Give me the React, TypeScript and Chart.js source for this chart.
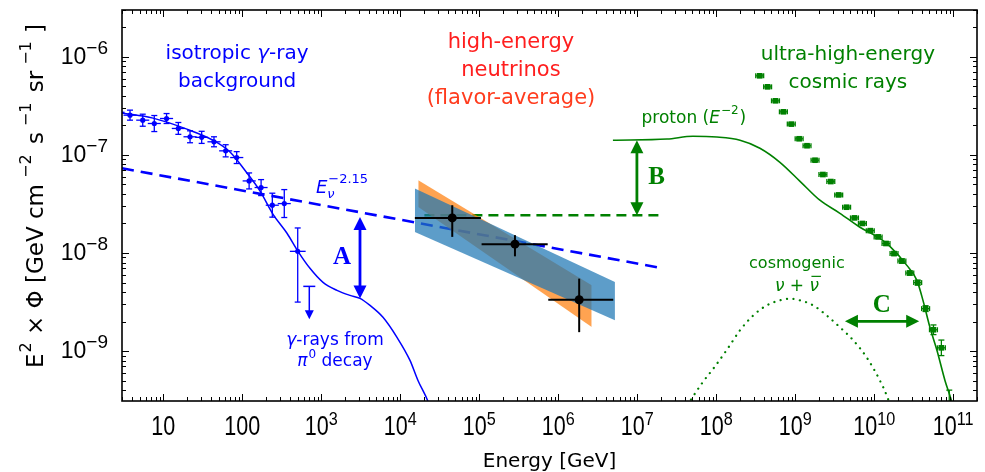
import React, { useEffect, useRef } from "react";
import { Chart, registerables } from "chart.js";

Chart.register(...registerables);

// ---------------- axes ----------------
const X_MIN = 3;
const X_MAX = 2e11;
const Y_MIN = 3.1e-10;
const Y_MAX = 3e-6;
const xTickDecades = [1, 2, 3, 4, 5, 6, 7, 8, 9, 10, 11];
const yTickDecades = [-6, -7, -8, -9];

// ---------------- isotropic gamma-ray background (Fermi) ----------------
const igrbE = [2.67, 3.79, 5.49, 7.69, 11.0, 15.5, 21.8, 30.6, 43.8, 61.6, 84.9, 122, 173, 240, 340, 503];
const igrbELo = [2.21, 3.13, 4.54, 6.36, 9.09, 12.8, 18.0, 25.3, 36.2, 50.9, 70.2, 101, 143, 198, 281, 400];
const igrbEHi = [3.23, 4.59, 6.64, 9.3, 13.3, 18.8, 26.4, 37.0, 53.0, 74.5, 103, 148, 209, 290, 411, 634];
const igrbF = [2.72e-7, 2.54e-7, 2.26e-7, 2.09e-7, 2.35e-7, 1.86e-7, 1.53e-7, 1.51e-7, 1.36e-7, 1.1e-7, 9.4e-8, 5.43e-8, 4.65e-8, 3.07e-8, 3.19e-8, 1.04e-8];
const igrbFLo = [2.42e-7, 2.26e-7, 1.96e-7, 1.73e-7, 2.09e-7, 1.62e-7, 1.33e-7, 1.31e-7, 1.21e-7, 9.55e-8, 8.17e-8, 4.5e-8, 3.85e-8, 2.32e-8, 2.3e-8, 3.16e-9];
const igrbFHi = [3.06e-7, 2.86e-7, 2.6e-7, 2.52e-7, 2.64e-7, 2.14e-7, 1.76e-7, 1.74e-7, 1.53e-7, 1.27e-7, 1.08e-7, 6.55e-8, 5.6e-8, 4.07e-8, 4.43e-8, 1.8e-8];
const igrbUpperLimitE = 705;
const igrbUpperLimitF = 4.57e-9;

// pi0-decay gamma-ray model
const igrbModelE = [3.0, 7.41, 19.9, 42.6, 69.9, 115, 168, 245, 368, 507, 719, 1052, 1581, 2309, 3090, 4139, 6043, 9085, 13270, 16750, 22420, 28300];
const igrbModelF = [2.67e-7, 2.37e-7, 1.83e-7, 1.41e-7, 1.07e-7, 6.51e-8, 4.27e-8, 2.48e-8, 1.59e-8, 1.04e-8, 6.98e-9, 5.02e-9, 4.16e-9, 3.7e-9, 3.45e-9, 2.92e-9, 2.21e-9, 1.38e-9, 8.04e-10, 5.02e-10, 3.07e-10, 1.75e-10];

// E^-2.15 power law
const powerLawE = [3.0, 2.12e7];
const powerLawF = [7.31e-8, 6.98e-9];

// ---------------- high-energy neutrinos ----------------
const nuE = [4.55e4, 2.83e5, 1.84e6];
const nuELo = [1.53e4, 1.07e5, 7.47e5];
const nuEHi = [1.05e5, 7.35e5, 4.97e6];
const nuF = [2.28e-8, 1.23e-8, 3.34e-9];
const nuFLo = [1.46e-8, 9.25e-9, 1.56e-9];
const nuFHi = [3.07e-8, 1.52e-8, 5.48e-9];

const bandOrangeE = [1.69e4, 2.65e6];
const bandOrangeUpper = [5.52e-8, 4.68e-9];
const bandOrangeLower = [2.94e-8, 1.76e-9];
const bandBlueE = [1.53e4, 5.22e6];
const bandBlueUpper = [4.54e-8, 5.06e-9];
const bandBlueLower = [1.64e-8, 2.06e-9];

const nuLevelE = [2.02e4, 1.94e7];
const nuLevelF = [2.43e-8, 2.43e-8];

// ---------------- UHE cosmic rays ----------------
const uhecrE = [3.55e8, 4.47e8, 5.62e8, 7.08e8, 8.91e8, 1.12e9, 1.41e9, 1.78e9, 2.24e9, 2.82e9, 3.55e9, 4.47e9, 5.62e9, 7.08e9, 8.91e9, 1.12e10, 1.41e10, 1.78e10, 2.24e10, 2.82e10, 3.55e10, 4.47e10, 5.62e10, 7.08e10, 8.91e10];
const uhecrF = [6.4e-7, 4.94e-7, 3.56e-7, 2.75e-7, 2.06e-7, 1.46e-7, 1.24e-7, 8.83e-8, 6.31e-8, 5.35e-8, 3.91e-8, 2.93e-8, 2.28e-8, 2.0e-8, 1.69e-8, 1.46e-8, 1.25e-8, 9.86e-9, 8.28e-9, 6.25e-9, 4.99e-9, 2.71e-9, 1.65e-9, 1.08e-9, 2.9e-10];
const uhecrRelErr = [0.03, 0.03, 0.03, 0.03, 0.03, 0.03, 0.03, 0.03, 0.03, 0.03, 0.03, 0.03, 0.03, 0.03, 0.03, 0.04, 0.04, 0.04, 0.05, 0.05, 0.06, 0.07, 0.12, 0.2, 0.38];
const uhecrBinHalfDex = 0.05;

const protonE = [4.92e6, 2.38e7, 5.07e7, 1.02e8, 2.0e8, 3.57e8, 6.4e8, 1.15e9, 2.05e9, 3.68e9, 6.59e9, 1.18e10, 1.58e10, 2.59e10, 3.47e10, 4.14e10, 5.07e10, 6.22e10, 7.86e10, 9.63e10, 1.08e11];
const protonF = [1.41e-7, 1.45e-7, 1.55e-7, 1.52e-7, 1.41e-7, 1.17e-7, 8.41e-8, 5.38e-8, 3.45e-8, 2.54e-8, 1.83e-8, 1.41e-8, 1.17e-8, 7.48e-9, 5.26e-9, 3.29e-9, 1.75e-9, 1.02e-9, 5.02e-10, 3.0e-10, 1.96e-10];

const cosmoE = [3.9e7, 6.53e7, 9.16e7, 1.35e8, 2.0e8, 2.94e8, 4.34e8, 6.4e8, 8.57e8, 1.15e9, 1.69e9, 2.5e9, 3.68e9, 5.42e9, 8.02e9, 1.18e10, 1.44e10, 1.68e10];
const cosmoF = [2.48e-10, 4.65e-10, 6.61e-10, 1.02e-9, 1.63e-9, 2.31e-9, 2.92e-9, 3.29e-9, 3.42e-9, 3.29e-9, 2.92e-9, 2.31e-9, 1.75e-9, 1.29e-9, 8.63e-10, 5.02e-10, 3.53e-10, 2.48e-10];

// ---------------- styles ----------------
const BLUE = "#0000ff";
const GREEN = "#008000";
const RED = "rgb(255,30,30)";
const RED2 = "rgb(255,60,30)";
const SANS = '"DejaVu Sans", "Liberation Sans", sans-serif';
const LIB = '"Liberation Sans", Arial, sans-serif';
const SERIF = '"Liberation Serif", "DejaVu Serif", serif';

type Part = { t: string; font: string; dy?: number; dx?: number; sx?: number };

function pts(xs: number[], ys: number[]) {
  return xs.map((x, i) => ({ x, y: ys[i] }));
}

function partsWidth(ctx: CanvasRenderingContext2D, parts: Part[]) {
  let w = 0;
  for (const p of parts) {
    ctx.font = p.font;
    w += ctx.measureText(p.t).width * (p.sx ?? 1) + (p.dx ?? 0);
  }
  return w;
}

function drawParts(
  ctx: CanvasRenderingContext2D,
  parts: Part[],
  x: number,
  y: number,
  align: "left" | "center" | "right",
  color: string
) {
  const w = partsWidth(ctx, parts);
  let cx = align === "center" ? x - w / 2 : align === "right" ? x - w : x;
  ctx.fillStyle = color;
  ctx.textAlign = "left";
  const xs: number[] = [];
  for (const p of parts) {
    ctx.font = p.font;
    cx += p.dx ?? 0;
    const sx = p.sx ?? 1;
    xs.push(cx);
    const mw = ctx.measureText(p.t).width * sx;
    ctx.save();
    ctx.translate(cx, y + (p.dy ?? 0));
    ctx.scale(sx, 1);
    ctx.fillText(p.t, 0, 0);
    ctx.restore();
    cx += mw;
  }
  return xs;
}

function seg(ctx: CanvasRenderingContext2D, x1: number, y1: number, x2: number, y2: number) {
  ctx.beginPath();
  ctx.moveTo(x1, y1);
  ctx.lineTo(x2, y2);
  ctx.stroke();
}

function head(ctx: CanvasRenderingContext2D, tx: number, ty: number, ux: number, uy: number, len: number, half: number) {
  const bx = tx - ux * len;
  const by = ty - uy * len;
  ctx.beginPath();
  ctx.moveTo(tx, ty);
  ctx.lineTo(bx - uy * half, by + ux * half);
  ctx.lineTo(bx + uy * half, by - ux * half);
  ctx.closePath();
  ctx.fill();
}

function dblArrow(ctx: CanvasRenderingContext2D, x1: number, y1: number, x2: number, y2: number, color: string) {
  const L = Math.hypot(x2 - x1, y2 - y1);
  const ux = (x2 - x1) / L;
  const uy = (y2 - y1) / L;
  const len = 13;
  const half = 6.5;
  ctx.strokeStyle = color;
  ctx.fillStyle = color;
  ctx.lineWidth = 2.8;
  seg(ctx, x1 + ux * len * 0.7, y1 + uy * len * 0.7, x2 - ux * len * 0.7, y2 - uy * len * 0.7);
  head(ctx, x1, y1, -ux, -uy, len, half);
  head(ctx, x2, y2, ux, uy, len, half);
}

// annotations in data coordinates
const arrowA = { e: 3.09e3, f1: 2.33e-8, f2: 3.43e-9 };
const arrowB = { e: 9.9e6, f1: 1.41e-7, f2: 2.43e-8 };
const arrowC = { f: 2.01e-9, e1: 4.26e9, e2: 3.71e10 };

const overlay = {
  id: "overlay",
  afterDatasetsDraw(chart: any) {
    const { ctx, chartArea: a } = chart;
    const X = (v: number) => chart.scales.x.getPixelForValue(v);
    const Y = (v: number) => chart.scales.y.getPixelForValue(v);
    ctx.save();
    ctx.beginPath();
    ctx.rect(a.left, a.top, a.right - a.left, a.bottom - a.top);
    ctx.clip();
    ctx.lineCap = "butt";

    // IGRB error bars
    ctx.strokeStyle = BLUE;
    ctx.fillStyle = BLUE;
    ctx.lineWidth = 1.3;
    for (let i = 0; i < igrbE.length; i++) {
      const x = X(igrbE[i]);
      const y = Y(igrbF[i]);
      seg(ctx, X(igrbELo[i]), y, X(igrbEHi[i]), y);
      const yl = Y(igrbFLo[i]);
      const yh = Y(igrbFHi[i]);
      seg(ctx, x, yl, x, yh);
      seg(ctx, x - 3, yl, x + 3, yl);
      seg(ctx, x - 3, yh, x + 3, yh);
    }
    // upper limit
    {
      const x = X(igrbUpperLimitE);
      const y = Y(igrbUpperLimitF);
      ctx.lineWidth = 1.5;
      seg(ctx, x - 6, y, x + 6, y);
      seg(ctx, x, y, x, y + 26);
      head(ctx, x, y + 33, 0, 1, 9, 4.5);
    }

    // UHECR error bars
    ctx.strokeStyle = GREEN;
    ctx.lineWidth = 1.3;
    for (let i = 0; i < uhecrE.length; i++) {
      const x = X(uhecrE[i]);
      const y = Y(uhecrF[i]);
      const x0 = X(uhecrE[i] / Math.pow(10, uhecrBinHalfDex));
      const x1 = X(uhecrE[i] * Math.pow(10, uhecrBinHalfDex));
      seg(ctx, x0, y, x1, y);
      seg(ctx, x0, y - 2.5, x0, y + 2.5);
      seg(ctx, x1, y - 2.5, x1, y + 2.5);
      const yl = Y(uhecrF[i] / (1 + uhecrRelErr[i]));
      const yh = Y(uhecrF[i] * (1 + uhecrRelErr[i]));
      seg(ctx, x, yl, x, yh);
      seg(ctx, x - 3, yl, x + 3, yl);
      seg(ctx, x - 3, yh, x + 3, yh);
    }

    // neutrino error bars
    ctx.strokeStyle = "#000";
    ctx.lineWidth = 2;
    for (let i = 0; i < nuE.length; i++) {
      const x = X(nuE[i]);
      const y = Y(nuF[i]);
      seg(ctx, X(nuELo[i]), y, X(nuEHi[i]), y);
      seg(ctx, x, Y(nuFLo[i]), x, Y(nuFHi[i]));
    }

    // arrows
    dblArrow(ctx, X(arrowA.e), Y(arrowA.f1), X(arrowA.e), Y(arrowA.f2), BLUE);
    dblArrow(ctx, X(arrowB.e), Y(arrowB.f1), X(arrowB.e), Y(arrowB.f2), GREEN);
    dblArrow(ctx, X(arrowC.e1), Y(arrowC.f), X(arrowC.e2), Y(arrowC.f), GREEN);
    ctx.restore();
  },
  afterDraw(chart: any) {
    const { ctx, chartArea: a } = chart;
    const xs = chart.scales.x;
    const ys = chart.scales.y;
    const X = (v: number) => xs.getPixelForValue(v);
    const Y = (v: number) => ys.getPixelForValue(v);
    ctx.save();

    // frame
    ctx.strokeStyle = "#000";
    ctx.lineWidth = 1.6;
    ctx.strokeRect(a.left, a.top, a.right - a.left, a.bottom - a.top);

    // ticks
    ctx.lineWidth = 1;
    for (let d = -1; d <= 12; d++) {
      for (let m = 1; m <= 9; m++) {
        const v = m * Math.pow(10, d);
        if (v < X_MIN || v > X_MAX) continue;
        const p = Math.round(X(v)) + 0.5;
        const L = m === 1 ? 7 : 4;
        seg(ctx, p, a.bottom, p, a.bottom - L);
        seg(ctx, p, a.top, p, a.top + L);
      }
    }
    for (let d = -11; d <= -4; d++) {
      for (let m = 1; m <= 9; m++) {
        const v = m * Math.pow(10, d);
        if (v < Y_MIN || v > Y_MAX) continue;
        const p = Math.round(Y(v)) + 0.5;
        const L = m === 1 ? 7 : 4;
        seg(ctx, a.left, p, a.left + L, p);
        seg(ctx, a.right, p, a.right - L, p);
      }
    }

    // tick labels
    ctx.textBaseline = "alphabetic";
    for (const d of xTickDecades) {
      const px = X(Math.pow(10, d));
      const parts: Part[] =
        d === 1
          ? [{ t: "10", font: `28px ${LIB}`, sx: 0.77 }]
          : d === 2
          ? [{ t: "100", font: `28px ${LIB}`, sx: 0.77 }]
          : [
              { t: "10", font: `28px ${LIB}`, sx: 0.77 },
              { t: String(d), font: `18px ${LIB}`, dy: -10, sx: 0.9 },
            ];
      drawParts(ctx, parts, px, a.bottom + 34, "center", "#000");
    }
    for (const d of yTickDecades) {
      const py = Y(Math.pow(10, d));
      drawParts(
        ctx,
        [
          { t: "10", font: `23px ${LIB}` },
          { t: "\u2212" + String(-d), font: `19px ${LIB}`, dy: -10 },
        ],
        108,
        py + 7,
        "right",
        "#000"
      );
    }

    // axis titles
    drawParts(ctx, [{ t: "Energy [GeV]", font: `20px ${SANS}` }], (a.left + a.right) / 2, 467, "center", "#000");
    ctx.save();
    ctx.translate(43, 196);
    ctx.rotate(-Math.PI / 2);
    const T = `23px ${SANS}`;
    const S = `16px ${SANS}`;
    drawParts(
      ctx,
      [
        { t: "E", font: T },
        { t: "2", font: S, dy: -12, dx: 1 },
        { t: " \u00d7 \u03a6 [GeV cm", font: T },
        { t: "\u22122", font: S, dy: -12, dx: 6 },
        { t: " s", font: T, dx: 3 },
        { t: "\u22121", font: S, dy: -12, dx: 6 },
        { t: " sr", font: T, dx: 3 },
        { t: "\u22121", font: S, dy: -12, dx: 6 },
        { t: " ]", font: T, dx: 1 },
      ],
      0,
      0,
      "center",
      "#000"
    );
    ctx.restore();

    // annotations
    ctx.textBaseline = "middle";
    const N20 = `20px ${SANS}`;
    const I20 = `italic 20px ${SANS}`;
    const N21 = `21px ${SANS}`;
    drawParts(ctx, [{ t: "isotropic ", font: N20 }, { t: "\u03b3", font: I20 }, { t: "-ray", font: N20 }], X(86), Y(1.066e-6), "center", BLUE);
    drawParts(ctx, [{ t: "background", font: N20 }], X(86), Y(5.52e-7), "center", BLUE);
    drawParts(ctx, [{ t: "high-energy", font: N21 }], X(2.52e5), Y(1.41e-6), "center", RED);
    drawParts(ctx, [{ t: "neutrinos", font: N21 }], X(2.52e5), Y(7.31e-7), "center", RED);
    drawParts(ctx, [{ t: "(flavor-average)", font: N21 }], X(2.52e5), Y(3.79e-7), "center", RED2);
    drawParts(ctx, [{ t: "ultra-high-energy", font: N20 }], X(4.64e9), Y(1.04e-6), "center", GREEN);
    drawParts(ctx, [{ t: "cosmic rays", font: N20 }], X(4.64e9), Y(5.39e-7), "center", GREEN);

    const N17 = `17px ${SANS}`;
    const I17 = `italic 17px ${SANS}`;
    const S12 = `12px ${SANS}`;
    drawParts(
      ctx,
      [
        { t: "proton (", font: N17 },
        { t: "E", font: I17 },
        { t: "\u22122", font: S12, dy: -7, dx: 1 },
        { t: ")", font: N17, dx: 1 },
      ],
      X(5.21e7),
      Y(2.37e-7),
      "center",
      GREEN
    );
    ctx.font = `italic 13px ${SANS}`;
    const nuW = ctx.measureText("\u03bd").width;
    drawParts(
      ctx,
      [
        { t: "E", font: `italic 18px ${SANS}` },
        { t: "\u03bd", font: `italic 13px ${SANS}`, dy: 6 },
        { t: "\u22122.15", font: `13px ${SANS}`, dy: -9, dx: -nuW + 1 },
      ],
      X(1.83e3),
      Y(4.57e-8),
      "center",
      BLUE
    );
    drawParts(ctx, [{ t: "\u03b3", font: I17 }, { t: "-rays from", font: N17 }], X(1.49e3), Y(1.29e-9), "center", BLUE);
    drawParts(
      ctx,
      [
        { t: "\u03c0", font: I17 },
        { t: "0", font: S12, dy: -7, dx: 1 },
        { t: " decay", font: N17 },
      ],
      X(1.49e3),
      Y(7.85e-10),
      "center",
      BLUE
    );
    drawParts(ctx, [{ t: "cosmogenic", font: `16px ${SANS}` }], X(1.05e9), Y(7.67e-9), "center", GREEN);
    const nx = drawParts(
      ctx,
      [
        { t: "\u03bd", font: I17 },
        { t: " + ", font: N17 },
        { t: "\u03bd", font: I17 },
      ],
      X(1.05e9),
      Y(4.57e-9),
      "center",
      GREEN
    );
    {
      ctx.font = I17;
      const w = ctx.measureText("\u03bd").width;
      const yb = Y(4.57e-9) - 10;
      ctx.strokeStyle = GREEN;
      ctx.lineWidth = 1.2;
      seg(ctx, nx[2] + 2, yb, nx[2] + w + 2, yb);
    }

    const LET = `bold 25px ${SERIF}`;
    drawParts(ctx, [{ t: "A", font: LET }], X(1.83e3), Y(9.04e-9), "center", BLUE);
    drawParts(ctx, [{ t: "B", font: LET }], X(1.76e7), Y(5.92e-8), "center", GREEN);
    drawParts(ctx, [{ t: "C", font: LET }], X(1.25e10), Y(2.92e-9), "center", GREEN);

    ctx.restore();
  },
};

export default function App() {
  const ref = useRef<HTMLCanvasElement | null>(null);
  useEffect(() => {
    if (!ref.current) return;
    const transparent = "rgba(0,0,0,0)";
    const chart = new Chart(ref.current, {
      type: "line",
      data: {
        datasets: [
          {
            label: "neutrino data",
            data: pts(nuE, nuF),
            showLine: false,
            pointRadius: 4.5,
            pointBackgroundColor: "#000",
            pointBorderWidth: 0,
            order: 0,
          },
          {
            label: "band blue upper",
            data: pts(bandBlueE, bandBlueUpper),
            fill: "+1",
            backgroundColor: "rgba(31,119,180,0.72)",
            borderColor: transparent,
            borderWidth: 1,
            pointRadius: 0,
            order: 1,
          },
          {
            label: "band blue lower",
            data: pts(bandBlueE, bandBlueLower),
            fill: false,
            borderColor: transparent,
            borderWidth: 1,
            pointRadius: 0,
            order: 1,
          },
          {
            label: "band orange upper",
            data: pts(bandOrangeE, bandOrangeUpper),
            fill: "+1",
            backgroundColor: "rgba(255,127,14,0.72)",
            borderColor: transparent,
            borderWidth: 1,
            pointRadius: 0,
            order: 2,
          },
          {
            label: "band orange lower",
            data: pts(bandOrangeE, bandOrangeLower),
            fill: false,
            borderColor: transparent,
            borderWidth: 1,
            pointRadius: 0,
            order: 2,
          },
          {
            label: "E^-2.15",
            data: pts(powerLawE, powerLawF),
            borderColor: BLUE,
            borderWidth: 2.6,
            borderDash: [12, 7],
            pointRadius: 0,
            fill: false,
            order: 3,
          },
          {
            label: "neutrino level",
            data: pts(nuLevelE, nuLevelF),
            borderColor: GREEN,
            borderWidth: 2.6,
            borderDash: [10, 6],
            pointRadius: 0,
            fill: false,
            order: 3,
          },
          {
            label: "pi0 model",
            data: pts(igrbModelE, igrbModelF),
            borderColor: BLUE,
            borderWidth: 1.5,
            pointRadius: 0,
            cubicInterpolationMode: "monotone",
            fill: false,
            order: 4,
          },
          {
            label: "IGRB",
            data: pts(igrbE, igrbF),
            showLine: false,
            pointRadius: 2.6,
            pointBackgroundColor: BLUE,
            pointBorderWidth: 0,
            order: 4,
          },
          {
            label: "proton",
            data: pts(protonE, protonF),
            borderColor: GREEN,
            borderWidth: 1.6,
            pointRadius: 0,
            cubicInterpolationMode: "monotone",
            fill: false,
            order: 4,
          },
          {
            label: "UHECR",
            data: pts(uhecrE, uhecrF),
            showLine: false,
            pointStyle: "rect",
            pointRadius: 4,
            pointBackgroundColor: GREEN,
            pointBorderWidth: 0,
            order: 4,
          },
          {
            label: "cosmogenic",
            data: pts(cosmoE, cosmoF),
            borderColor: GREEN,
            borderWidth: 2.2,
            borderDash: [0.1, 6.4],
            borderCapStyle: "round",
            pointRadius: 0,
            cubicInterpolationMode: "monotone",
            fill: false,
            order: 4,
          },
        ] as any,
      },
      options: {
        responsive: false,
        animation: false,
        layout: { padding: { left: 0, right: 8, top: 10, bottom: 0 } },
        plugins: { legend: { display: false }, tooltip: { enabled: false } },
        scales: {
          x: {
            type: "logarithmic",
            min: X_MIN,
            max: X_MAX,
            grid: { display: false },
            border: { display: false },
            ticks: { display: false },
            afterFit: (s: any) => {
              s.height = 71;
            },
          },
          y: {
            type: "logarithmic",
            min: Y_MIN,
            max: Y_MAX,
            grid: { display: false },
            border: { display: false },
            ticks: { display: false },
            afterFit: (s: any) => {
              s.width = 122;
            },
          },
        },
      } as any,
      plugins: [overlay as any],
    });
    return () => chart.destroy();
  }, []);
  return (
    <div style={{ position: "absolute", left: 0, top: 0, width: 985, height: 472, background: "#fff" }}>
      <canvas ref={ref} width={985} height={472} style={{ width: 985, height: 472, display: "block" }} />
    </div>
  );
}
